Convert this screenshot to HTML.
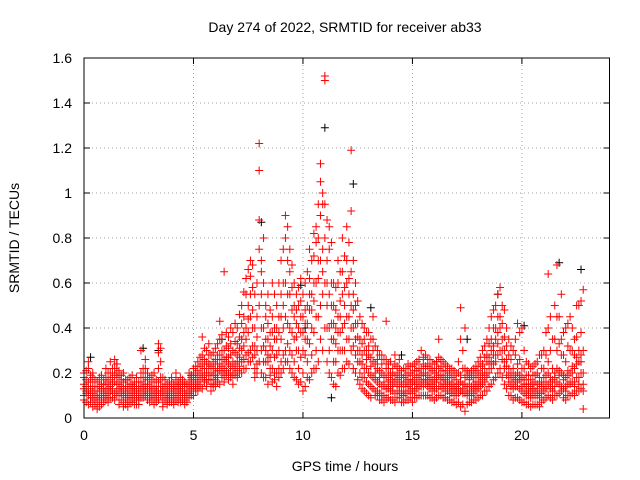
<!DOCTYPE html>
<html><head><meta charset="utf-8"><style>
body{margin:0;background:#fff}
svg{display:block;font-family:"Liberation Sans",sans-serif}
</style></head><body>
<svg id="chart" width="640" height="480" viewBox="0 0 640 480">
<text x="345" y="32" font-size="14" text-anchor="middle">Day 274 of 2022, SRMTID for receiver ab33</text>
<text transform="translate(19,238) rotate(-90)" font-size="14" text-anchor="middle">SRMTID / TECUs</text>
<text x="345" y="471" font-size="14" text-anchor="middle">GPS time / hours</text>
<g id="grid"></g>
<g id="marks"></g>
<rect x="84" y="58" width="525.5" height="360" fill="none" stroke="#000" stroke-width="1"/>
</svg>
<script>
const xTicks=[0,5,10,15,20];
const yTicks=[0,0.2,0.4,0.6,0.8,1,1.2,1.4,1.6];
const yTickLabels=["0","0.2","0.4","0.6","0.8","1","1.2","1.4","1.6"];
const times=[0.0,0.2,0.4,0.6,0.8,1.0,1.2,1.4,1.6,1.8,2.0,2.2,2.4,2.6,2.8,3.0,3.2,3.4,3.6,3.8,4.0,4.2,4.4,4.6,4.8,5.0,5.2,5.4,5.6,5.8,6.0,6.2,6.4,6.6,6.8,7.0,7.2,7.4,7.6,7.8,8.0,8.2,8.4,8.6,8.8,9.0,9.2,9.4,9.6,9.8,10.0,10.2,10.4,10.6,10.8,11.0,11.2,11.4,11.6,11.8,12.0,12.2,12.4,12.6,12.8,13.0,13.2,13.4,13.6,13.8,14.0,14.2,14.4,14.6,14.8,15.0,15.2,15.4,15.6,15.8,16.0,16.2,16.4,16.6,16.8,17.0,17.2,17.4,17.6,17.8,18.0,18.2,18.4,18.6,18.8,19.0,19.2,19.4,19.6,19.8,20.0,20.2,20.4,20.6,20.8,21.0,21.2,21.4,21.6,21.8,22.0,22.2,22.4,22.6,22.8];
const redVals=[
[.15,.10,.20,.08,.13,.18],[.12,.22,.06,.16,.10,.25],[.09,.14,.18,.05,.11,.20],[.07,.12,.16,.04,.10,.09],[.10,.15,.06,.19,.13,.08],
[.12,.18,.22,.08,.15,.10],[.14,.20,.25,.09,.17,.12],[.16,.22,.26,.11,.19,.08],[.13,.19,.06,.21,.10,.15],[.10,.16,.07,.13,.20,.05],
[.08,.12,.17,.05,.10,.14],[.11,.15,.07,.19,.09,.13],[.10,.14,.06,.18,.12,.08],[.12,.20,.09,.16,.30,.14],[.15,.22,.10,.18,.12,.26],
[.10,.14,.07,.18,.12,.09],[.09,.13,.06,.16,.11,.20],[.12,.33,.29,.16,.08,.22],[.10,.14,.07,.18,.12,.05],[.09,.12,.06,.15,.11,.08],
[.10,.13,.07,.16,.12,.18],[.11,.14,.08,.17,.09,.20],[.12,.15,.07,.18,.10,.13],[.10,.14,.08,.16,.06,.12],[.12,.16,.09,.20,.11,.14],
[.14,.19,.10,.22,.16,.12],[.16,.21,.12,.25,.18,.14],[.18,.24,.13,.28,.20,.36],[.20,.25,.14,.30,.17,.22],[.17,.23,.12,.28,.20,.15],
[.19,.26,.14,.31,.22,.17],[.21,.28,.15,.35,.24,.43],[.22,.65,.16,.30,.26,.19],[.24,.31,.17,.36,.20,.27],[.22,.30,.15,.38,.25,.19],
[.25,.33,.18,.40,.28,.21],[.30,.42,.20,.50,.35,.25],[.35,.55,.22,.62,.40,.28],[.45,.63,.25,.70,.55,.30],[.28,.40,.18,.55,.32,.22],
[1.10,1.22,.88,.75,.50,.25],[.60,.40,.25,.18,.80,.32],[.35,.25,.55,.15,.42,.28],[.30,.22,.45,.16,.38,.60],[.28,.20,.40,.14,.35,.50],
[.35,.55,.25,.70,.45,.20],[.45,.80,.90,.30,.60,.25],[.40,.65,.30,.55,.22,.75],[.50,.35,.60,.25,.45,.18],[.40,.30,.58,.22,.50,.15],
[.45,.30,.55,.20,.38,.12],[.50,.35,.65,.25,.42,.18],[.55,.40,.70,.28,.48,.20],[.78,.60,.45,.85,.30,.22],[1.13,1.05,.90,.70,.50,.35],
[1.52,1.50,.95,.80,.60,.40],[.75,.55,.40,.85,.30,.20],[.50,.35,.60,.25,.42,.15],[.45,.60,.30,.70,.38,.20],[.55,.80,.40,.65,.30,.22],
[.60,.70,.45,.85,.35,.25],[1.19,.65,.50,.92,.40,.30],[.50,.35,.60,.28,.42,.20],[.35,.25,.45,.20,.30,.15],[.30,.22,.40,.18,.35,.12],
[.28,.20,.38,.15,.32,.10],[.25,.18,.35,.13,.30,.45],[.22,.16,.30,.12,.26,.10],[.20,.14,.28,.10,.24,.08],[.18,.13,.43,.09,.22,.26],
[.17,.12,.25,.08,.20,.14],[.16,.11,.24,.07,.19,.28],[.18,.12,.26,.09,.14,.22],[.15,.10,.22,.07,.18,.12],[.17,.12,.24,.08,.20,.14],
[.16,.11,.23,.07,.19,.13],[.18,.13,.25,.09,.21,.15],[.19,.14,.30,.10,.22,.16],[.20,.15,.28,.10,.23,.17],[.18,.13,.26,.09,.22,.15],
[.17,.12,.24,.08,.20,.14],[.19,.14,.27,.10,.22,.35],[.18,.13,.25,.09,.21,.15],[.16,.12,.23,.08,.19,.14],[.15,.11,.22,.07,.18,.13],
[.14,.10,.20,.06,.17,.12],[.16,.12,.35,.05,.19,.49],[.15,.11,.22,.03,.18,.40],[.14,.10,.20,.07,.17,.12],[.15,.11,.22,.08,.18,.13],
[.18,.13,.25,.09,.21,.15],[.20,.15,.30,.10,.24,.17],[.25,.18,.35,.12,.28,.20],[.30,.22,.45,.15,.35,.25],[.35,.25,.50,.18,.40,.28],
[.40,.30,.58,.20,.45,.22],[.30,.22,.48,.15,.36,.25],[.22,.16,.35,.10,.28,.18],[.18,.13,.30,.08,.22,.15],[.20,.14,.42,.09,.24,.16],
[.18,.12,.40,.07,.22,.14],[.15,.10,.25,.06,.19,.12],[.14,.09,.22,.05,.17,.11],[.16,.10,.24,.06,.19,.12],[.15,.09,.28,.05,.18,.11],
[.18,.12,.30,.08,.22,.14],[.20,.40,.64,.10,.25,.15],[.17,.12,.35,.08,.22,.14],[.22,.45,.68,.10,.30,.16],[.20,.35,.55,.12,.28,.14],
[.18,.12,.40,.08,.25,.14],[.20,.15,.45,.10,.30,.16],[.22,.16,.35,.10,.28,.14],[.25,.18,.50,.12,.30,.15],[.30,.57,.04,.12,.20,.15]];
const times2=[0.1,0.3,0.5,0.7,0.9,1.1,1.3,1.5,1.7,1.9,2.1,2.3,2.5,2.7,2.9,3.1,3.3,3.5,3.7,3.9,4.1,4.3,4.5,4.7,4.9,5.1,5.3,5.5,5.7,5.9,6.1,6.3,6.5,6.7,6.9,7.1,7.3,7.5,7.7,7.9,8.1,8.3,8.5,8.7,8.9,9.1,9.3,9.5,9.7,9.9,10.1,10.3,10.5,10.7,10.9,11.1,11.3,11.5,11.7,11.9,12.1,12.3,12.5,12.7,12.9,13.1,13.3,13.5,13.7,13.9,14.1,14.3,14.5,14.7,14.9,15.1,15.3,15.5,15.7,15.9,16.1,16.3,16.5,16.7,16.9,17.1,17.3,17.5,17.7,17.9,18.1,18.3,18.5,18.7,18.9,19.1,19.3,19.5,19.7,19.9,20.1,20.3,20.5,20.7,20.9,21.1,21.3,21.5,21.7,21.9,22.1,22.3,22.5,22.7];
const redVals2=[
[.11,.17,.07,.14,.21,.12],[.09,.13,.19,.07,.16,.11],[.12,.08,.17,.14,.06,.10],[.10,.05,.14,.12,.18,.08],[.13,.09,.17,.11,.07,.15],
[.11,.16,.20,.09,.13,.07],[.15,.11,.22,.13,.18,.09],[.12,.18,.24,.10,.15,.20],[.11,.17,.08,.14,.12,.19],[.09,.14,.11,.06,.17,.12],
[.10,.07,.15,.12,.09,.18],[.13,.09,.16,.11,.06,.14],[.08,.12,.16,.10,.14,.06],[.14,.11,.18,.09,.22,.13],[.13,.17,.08,.20,.11,.15],
[.12,.08,.16,.10,.14,.19],[.11,.07,.14,.09,.17,.12],[.14,.25,.10,.18,.12,.31],[.11,.08,.15,.13,.17,.09],[.10,.07,.14,.12,.16,.09],
[.12,.08,.15,.10,.14,.06],[.09,.13,.16,.11,.15,.07],[.10,.14,.08,.17,.12,.15],[.12,.09,.15,.11,.14,.07],[.13,.10,.17,.15,.18,.12],
[.15,.12,.20,.17,.23,.13],[.18,.14,.23,.19,.27,.15],[.20,.16,.26,.22,.31,.17],[.22,.17,.28,.19,.33,.24],[.19,.15,.25,.22,.29,.14],
[.21,.16,.28,.24,.33,.18],[.23,.18,.30,.26,.37,.20],[.25,.19,.32,.27,.38,.21],[.23,.18,.33,.28,.40,.20],[.24,.19,.34,.29,.42,.22],
[.27,.20,.36,.31,.46,.23],[.32,.22,.45,.38,.56,.26],[.38,.25,.50,.44,.66,.29],[.40,.27,.58,.48,.68,.32],[.30,.20,.45,.36,.60,.24],
[.70,.55,.40,.30,.20,.65],[.50,.35,.25,.45,.18,.30],[.32,.22,.48,.27,.38,.19],[.27,.20,.40,.35,.55,.17],[.30,.22,.45,.38,.60,.18],
[.40,.28,.60,.50,.75,.22],[.42,.33,.70,.55,.85,.25],[.38,.28,.58,.48,.68,.20],[.42,.30,.55,.36,.48,.17],[.38,.27,.52,.45,.62,.16],
[.42,.28,.60,.48,.35,.14],[.48,.33,.62,.55,.75,.17],[.52,.38,.72,.60,.82,.22],[.62,.45,.80,.70,.95,.25],[.75,.55,.95,.65,1.00,.30],
[.70,.50,.88,.60,.40,.25],[.60,.42,.78,.50,.35,.18],[.48,.33,.58,.40,.25,.14],[.52,.38,.65,.45,.30,.19],[.58,.42,.72,.50,.30,.22],
[.62,.45,.78,.55,.35,.24],[.55,.40,.70,.48,.32,.22],[.42,.30,.52,.36,.25,.17],[.33,.24,.42,.28,.18,.13],[.30,.22,.38,.26,.16,.11],
[.27,.19,.35,.23,.14,.09],[.24,.17,.32,.20,.12,.10],[.21,.15,.28,.18,.11,.08],[.19,.14,.26,.16,.10,.07],[.18,.13,.24,.15,.09,.22],
[.16,.12,.22,.14,.08,.19],[.17,.12,.23,.15,.09,.20],[.16,.11,.21,.14,.07,.19],[.16,.11,.22,.14,.08,.19],[.17,.12,.23,.15,.09,.20],
[.17,.12,.24,.15,.09,.21],[.19,.14,.26,.16,.10,.22],[.20,.14,.27,.17,.10,.24],[.19,.14,.26,.16,.10,.23],[.17,.12,.24,.15,.09,.21],
[.18,.13,.25,.16,.09,.22],[.19,.14,.26,.17,.10,.23],[.17,.12,.24,.15,.09,.21],[.16,.11,.22,.14,.08,.20],[.15,.10,.21,.13,.07,.19],
[.15,.11,.20,.13,.07,.25],[.15,.11,.22,.13,.06,.30],[.14,.10,.21,.12,.06,.19],[.14,.10,.21,.12,.07,.19],[.16,.12,.23,.14,.08,.20],
[.19,.14,.27,.16,.10,.23],[.22,.16,.32,.19,.12,.27],[.27,.20,.40,.24,.14,.33],[.32,.24,.48,.28,.17,.40],[.38,.28,.55,.33,.20,.45],
[.35,.26,.50,.30,.18,.42],[.26,.19,.40,.23,.13,.32],[.20,.14,.32,.18,.10,.26],[.19,.14,.35,.17,.09,.28],[.19,.13,.38,.17,.08,.26],
[.17,.11,.30,.15,.07,.22],[.15,.10,.24,.13,.06,.19],[.15,.10,.23,.13,.06,.19],[.15,.10,.25,.13,.06,.20],[.16,.11,.28,.14,.07,.22],
[.19,.13,.38,.16,.09,.28],[.18,.13,.45,.16,.09,.30],[.20,.14,.50,.18,.10,.35],[.21,.15,.45,.19,.11,.33],[.19,.13,.38,.17,.09,.28],
[.21,.15,.42,.19,.10,.32],[.23,.16,.40,.20,.11,.30],[.27,.18,.50,.24,.12,.36],[.28,.20,.52,.25,.13,.38]];
const blackTimes=[0.3,1.5,2.7,3.4,4.9,6.3,8.1,9.9,10.1,11.0,11.3,12.3,13.1,14.5,16.1,17.5,18.9,20.1,21.7,22.7];
const blackVals=[0.27,0.24,0.31,0.30,0.19,0.35,0.87,0.59,0.40,1.29,0.09,1.04,0.49,0.28,0.25,0.35,0.55,0.41,0.69,0.66];
const NS="http://www.w3.org/2000/svg";
const X0=84,X1=609.5,Y0=418,Y1=58,XMAX=24,YMAX=1.6;
function xs(v){return X0+(X1-X0)*v/XMAX;}
function ys(v){return Y0-(Y0-Y1)*v/YMAX;}
const grid=document.getElementById('grid'),marks=document.getElementById('marks');
function mk(tag,attrs,parent){const e=document.createElementNS(NS,tag);for(const k in attrs)e.setAttribute(k,attrs[k]);parent.appendChild(e);return e;}
xTicks.forEach(t=>{const x=xs(t);
 const g=mk('line',{x1:x,x2:x,y1:Y0,y2:Y1,stroke:'#a0a0a0','stroke-dasharray':'1,3'},grid);
 
 
 mk('line',{x1:x,x2:x,y1:Y0,y2:Y0-6,stroke:'#000'},grid);
 mk('line',{x1:x,x2:x,y1:Y1,y2:Y1+6,stroke:'#000'},grid);
 const l=mk('text',{x:x,y:Y0+22,'font-size':14,'text-anchor':'middle'},grid);l.textContent=t;
 
 
});
yTicks.forEach((t,i)=>{const y=ys(t);
 const g=mk('line',{x1:X0,x2:X1,y1:y,y2:y,stroke:'#a0a0a0','stroke-dasharray':'1,3'},grid);
 
 
 mk('line',{x1:X0,x2:X0+6,y1:y,y2:y,stroke:'#000'},grid);
 mk('line',{x1:X1,x2:X1-6,y1:y,y2:y,stroke:'#000'},grid);
 const l=mk('text',{x:X0-12,y:y+5,'font-size':14,'text-anchor':'end'},grid);l.textContent=yTickLabels[i];
 
 
});
function plus(t,v,color){const x=xs(t),y=ys(v);
 const p=mk('path',{d:`M${x-4},${y}h8M${x},${y-4}v8`,stroke:color,'stroke-width':1,fill:'none'},marks);
 
 
}
blackTimes.forEach((t,i)=>plus(t,blackVals[i],'#000'));
times.forEach((t,i)=>redVals[i].forEach(v=>plus(t,v,'#f00')));
times2.forEach((t,i)=>redVals2[i].forEach(v=>plus(t,v,'#f00')));
</script>
</body></html>
